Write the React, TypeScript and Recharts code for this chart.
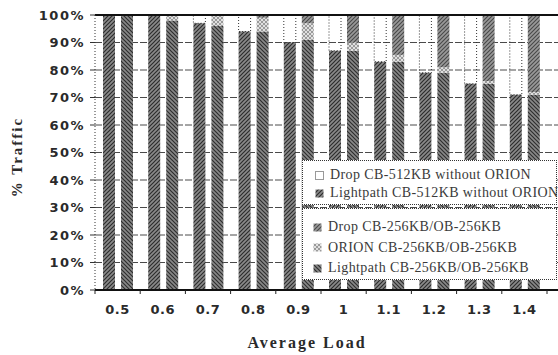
import React from 'react';
import { BarChart, Bar, XAxis, YAxis, CartesianGrid, ReferenceLine } from 'recharts';

const categories = ['0.5', '0.6', '0.7', '0.8', '0.9', '1', '1.1', '1.2', '1.3', '1.4'];
const lightpath512 = [100, 100, 97, 94, 90, 87, 83, 79, 75, 71];
const drop512 = [0, 0, 3, 6, 10, 13, 17, 21, 25, 29];
const lightpath256 = [100, 98, 96, 94, 91, 87, 83, 79, 75, 71];
const orion256 = [0, 2, 4, 5, 6, 3, 2.5, 2, 1, 1];
const drop256 = [0, 0, 0, 1, 3, 10, 14.5, 19, 24, 28];
const yTicks = [0, 10, 20, 30, 40, 50, 60, 70, 80, 90, 100];

const legendTop = ['Drop CB-512KB without ORION', 'Lightpath CB-512KB without ORION'];
const legendBottom = ['Drop CB-256KB/OB-256KB', 'ORION CB-256KB/OB-256KB', 'Lightpath CB-256KB/OB-256KB'];

const data = categories.map((c, i) => ({
  load: c,
  lp512: lightpath512[i],
  drop512: drop512[i],
  lp256: lightpath256[i],
  orion256: orion256[i],
  drop256: drop256[i],
}));

const FILL_LP512 = 'url(#patLp512)';
const FILL_LP256 = 'url(#patLp256)';
const FILL_ORION = 'url(#patOrion)';
const FILL_DROP256 = 'url(#patDrop256)';

const XTick = (props: any) => {
  const { x, y, payload, index } = props;
  const off = payload && payload.offset != null ? payload.offset : 22.6;
  return (
    <g>
      <line x1={x - off} x2={x - off} y1={y} y2={y + 4} stroke="#222" strokeWidth={1} />
      {index === categories.length - 1 ? (
        <line x1={x + off} x2={x + off} y1={y} y2={y + 4} stroke="#222" strokeWidth={1} />
      ) : null}
      <text
        x={x}
        y={y + 15}
        dy="0.71em"
        textAnchor="middle"
        fontFamily="'DejaVu Sans', sans-serif"
        fontWeight="bold"
        fontSize={13}
        fill="#2a2a2a"
        letterSpacing={0.5}
      >
        {payload.value}
      </text>
    </g>
  );
};

const Marker = ({ fill, dotted }: { fill: string; dotted?: boolean }) => (
  <svg width={9} height={9} style={{ marginRight: 6, flex: 'none' }}>
    <rect
      x={0.5}
      y={0.5}
      width={8}
      height={8}
      fill={fill}
      stroke="#333"
      strokeWidth={dotted ? 1 : 0}
      strokeDasharray={dotted ? '1 1' : undefined}
    />
  </svg>
);

const legendText: React.CSSProperties = {
  fontFamily: "'Liberation Serif', 'Times New Roman', serif",
  fontSize: 14,
  letterSpacing: 0.4,
  color: '#3a3a3a',
  whiteSpace: 'nowrap',
  lineHeight: '18px',
};

export default function App() {
  const topFills = ['#fff', FILL_LP512];
  const bottomFills = [FILL_DROP256, FILL_ORION, FILL_LP256];
  return (
    <div style={{ position: 'absolute', left: 0, top: 0, width: 558, height: 355, background: '#fff', overflow: 'hidden' }}>
      <svg width={0} height={0} style={{ position: 'absolute' }}>
        <defs>
          <pattern id="patLp512" patternUnits="userSpaceOnUse" width={4} height={4}>
            <rect width={4} height={4} fill="#8a8a8a" />
            <path d="M-1,1 l2,-2 M0,4 l4,-4 M3,5 l2,-2" stroke="#2c2c2c" strokeWidth={1.2} />
          </pattern>
          <pattern id="patLp256" patternUnits="userSpaceOnUse" width={4} height={4}>
            <rect width={4} height={4} fill="#888" />
            <path d="M-1,3 l2,2 M0,0 l4,4 M3,-1 l2,2" stroke="#2e2e2e" strokeWidth={1.2} />
          </pattern>
          <pattern id="patDrop256" patternUnits="userSpaceOnUse" width={4} height={4}>
            <rect width={4} height={4} fill="#999" />
            <path d="M-1,1 l2,-2 M0,4 l4,-4 M3,5 l2,-2" stroke="#484848" strokeWidth={1.1} />
          </pattern>
          <pattern id="patOrion" patternUnits="userSpaceOnUse" width={4} height={4}>
            <rect width={4} height={4} fill="#e0e0e0" />
            <path d="M0,0 l4,4 M4,0 l-4,4" stroke="#888" strokeWidth={0.8} />
          </pattern>
        </defs>
      </svg>

      <BarChart
        width={558}
        height={355}
        data={data}
        margin={{ top: 15, right: 0, bottom: 0, left: 0 }}
        barSize={12}
        barGap={6}
      >
        <CartesianGrid vertical={false} stroke="#4a4a4a" strokeDasharray="7 2" />
        <XAxis
          dataKey="load"
          height={65}
          padding={{ left: 0, right: 11 }}
          interval={0}
          tickSize={0}
          tickMargin={0}
          tickLine={false}
          axisLine={{ stroke: '#111', strokeWidth: 2 }}
          tick={<XTick />}
        />
        <YAxis
          width={95}
          domain={[0, 100]}
          ticks={yTicks}
          interval={0}
          tickFormatter={(v: number) => `${v}%`}
          tickSize={5}
          tickMargin={5}
          axisLine={{ stroke: '#333', strokeDasharray: '1 2' }}
          tickLine={{ stroke: '#333' }}
          tick={{
            fontFamily: "'DejaVu Sans', sans-serif",
            fontWeight: 'bold',
            fontSize: 13,
            fill: '#2a2a2a',
            letterSpacing: 1.5,
          }}
        />
        <ReferenceLine y={100} stroke="#111" strokeWidth={2} />
        <Bar dataKey="lp512" stackId="a" fill={FILL_LP512} isAnimationActive={false} />
        <Bar
          dataKey="drop512"
          stackId="a"
          fill="rgba(255,255,255,0)"
          stroke="#333"
          strokeWidth={1}
          strokeDasharray="1 2"
          isAnimationActive={false}
        />
        <Bar dataKey="lp256" stackId="b" fill={FILL_LP256} isAnimationActive={false} />
        <Bar dataKey="orion256" stackId="b" fill={FILL_ORION} isAnimationActive={false} />
        <Bar dataKey="drop256" stackId="b" fill={FILL_DROP256} isAnimationActive={false} />
      </BarChart>

      <svg width={558} height={355} style={{ position: 'absolute', left: 0, top: 0, pointerEvents: 'none' }}>
        <text
          x={17}
          y={157}
          textAnchor="middle"
          dominantBaseline="central"
          transform="rotate(-90, 17, 157)"
          fontFamily="'Liberation Serif', 'Times New Roman', serif"
          fontWeight="bold"
          fontSize={15}
          letterSpacing={2}
          fill="#2a2a2a"
        >
          % Traffic
        </text>
        <text
          x={307}
          y={342}
          textAnchor="middle"
          dominantBaseline="central"
          fontFamily="'Liberation Serif', 'Times New Roman', serif"
          fontWeight="bold"
          fontSize={16}
          letterSpacing={2}
          fill="#2a2a2a"
        >
          Average Load
        </text>
      </svg>

      <div
        style={{
          position: 'absolute',
          left: 302,
          top: 160,
          width: 255,
          height: 45,
          boxSizing: 'border-box',
          border: '1px dotted #333',
          background: '#fff',
          padding: '5px 0 0 12px',
        }}
      >
        {legendTop.map((name, i) => (
          <div key={name} style={{ display: 'flex', alignItems: 'center', ...legendText }}>
            <Marker fill={topFills[i]} dotted={i === 0} />
            <span>{name}</span>
          </div>
        ))}
      </div>
      <div
        style={{
          position: 'absolute',
          left: 302,
          top: 208,
          width: 255,
          height: 72,
          boxSizing: 'border-box',
          border: '1px dotted #333',
          background: '#fff',
          padding: '8px 0 0 10px',
        }}
      >
        {legendBottom.map((name, i) => (
          <div key={name} style={{ display: 'flex', alignItems: 'center', ...legendText, lineHeight: '20.5px' }}>
            <Marker fill={bottomFills[i]} />
            <span>{name}</span>
          </div>
        ))}
      </div>
    </div>
  );
}
